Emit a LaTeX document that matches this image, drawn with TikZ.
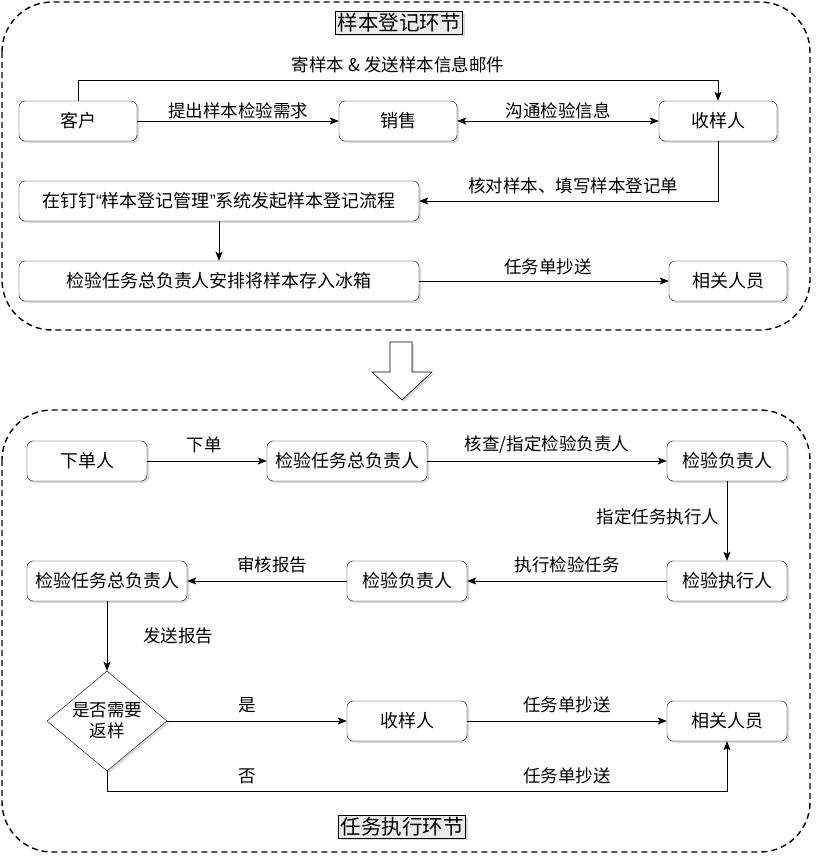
\documentclass[tikz,border=0pt]{standalone}
\usepackage{fontspec}
\setmainfont{Noto Sans CJK SC}
\newfontfamily\quotefont{Liberation Sans}
\usetikzlibrary{arrows.meta,shapes.geometric,shadows}

\begin{document}
\begin{tikzpicture}[x=1pt,y=-1pt,
    shade/.style={drop shadow={shadow xshift=2pt,shadow yshift=-2pt,opacity=0.25,fill=black!60}},
    box/.style={draw,rounded corners=6pt,fill=white,minimum height=40pt,inner sep=0pt,font=\fontsize{18}{20}\selectfont,shade},
    choice/.style={draw,diamond,aspect=1.2,fill=white,minimum width=120pt,minimum height=100pt,inner sep=0pt,align=center,font=\fontsize{17.5}{21}\selectfont,shade},
    group/.style={draw,dashed,dash pattern=on 6pt off 4pt,line width=1.4pt,rounded corners=50pt},
    title/.style={draw,fill=black!8,inner sep=2pt,font=\fontsize{20.5}{22}\selectfont,shade},
    lbl/.style={font=\fontsize{17.5}{20}\selectfont},
    arr/.style={-{Stealth[length=9pt,width=7pt,inset=2pt]},line width=0.8pt},
    darr/.style={{Stealth[length=9pt,width=7pt,inset=2pt]}-{Stealth[length=9pt,width=7pt,inset=2pt]},line width=0.8pt}]
  \useasboundingbox (0,0) rectangle (822,863);

  \draw[group] (2,2) rectangle (810,330);
  \draw[group] (2,410) rectangle (810,852);

  \node[title] (dengji) at (399,23) {样本登记环节};
  \node[title] (renwu) at (402,827) {任务执行环节};

  \node[box,minimum width=118pt] (kehu) at (78,121) {客户};
  \node[box,minimum width=118pt] (xiaoshou) at (398,121) {销售};
  \node[box,minimum width=118pt] (shouyang) at (718,121) {收样人};
  \node[box,minimum width=400pt] (dingding) at (219,201) {在钉钉{\quotefont “}样本登记管理{\quotefont ”}系统发起样本登记流程};
  \node[box,minimum width=400pt] (cunru) at (219,281) {检验任务总负责人安排将样本存入冰箱};
  \node[box,minimum width=118pt] (xiangguan) at (728,281) {相关人员};

  \draw[arr] (kehu.north) -- ++(0,-20) -| (shouyang.north);
  \node[lbl] (l1) at (398,65) {寄样本 \& 发送样本信息邮件};
  \draw[arr] (kehu) -- (xiaoshou);
  \node[lbl] (l2) at (238,111) {提出样本检验需求};
  \draw[darr] (xiaoshou) -- (shouyang);
  \node[lbl] (l3) at (558,111) {沟通检验信息};
  \draw[arr] (shouyang.south) |- (dingding.east);
  \node[lbl] (l4) at (573,186) {核对样本、填写样本登记单};
  \draw[arr] (dingding) -- (cunru);
  \draw[arr] (cunru) -- (xiangguan);
  \node[lbl] (l5) at (548,267) {任务单抄送};

  \draw[fill=white,line width=0.6pt,shade] (390,342) -- (412,342) -- (412,372) -- (432,372) -- (402,400) -- (372,372) -- (390,372) -- cycle;

  \node[box,minimum width=120pt] (xiadan) at (87,461) {下单人};
  \node[box,minimum width=160pt] (zongfu) at (347,461) {检验任务总负责人};
  \node[box,minimum width=120pt] (fuze) at (727,461) {检验负责人};
  \node[box,minimum width=120pt] (zhixing) at (727,581) {检验执行人};
  \node[box,minimum width=120pt] (fuzeb) at (407,581) {检验负责人};
  \node[box,minimum width=160pt] (zongfub) at (107,581) {检验任务总负责人};
  \node[choice] (fanyang) at (107,721) {是否需要\\返样};
  \node[box,minimum width=120pt] (shouyangb) at (407,721) {收样人};
  \node[box,minimum width=120pt] (xiangguanb) at (727,721) {相关人员};

  \draw[arr] (xiadan) -- (zongfu);
  \node[lbl] (m1) at (204,445) {下单};
  \draw[arr] (zongfu) -- (fuze);
  \node[lbl] (m2) at (547,445) {核查/指定检验负责人};
  \draw[arr] (fuze) -- (zhixing);
  \node[lbl] (m3) at (658,517) {指定任务执行人};
  \draw[arr] (zhixing) -- (fuzeb);
  \node[lbl] (m4) at (567,565) {执行检验任务};
  \draw[arr] (fuzeb) -- (zongfub);
  \node[lbl] (m5) at (272,565) {审核报告};
  \draw[arr] (zongfub) -- (fanyang);
  \node[lbl] (m6) at (178,636) {发送报告};
  \draw[arr] (fanyang) -- (shouyangb);
  \node[lbl] (m7) at (247,705) {是};
  \draw[arr] (shouyangb) -- (xiangguanb);
  \node[lbl] (m8) at (567,705) {任务单抄送};
  \draw[arr] (fanyang.south) -- ++(0,20) -| (xiangguanb.south);
  \node[lbl] (m9) at (247,776) {否};
  \node[lbl] (m10) at (567,776) {任务单抄送};
\end{tikzpicture}
\end{document}
